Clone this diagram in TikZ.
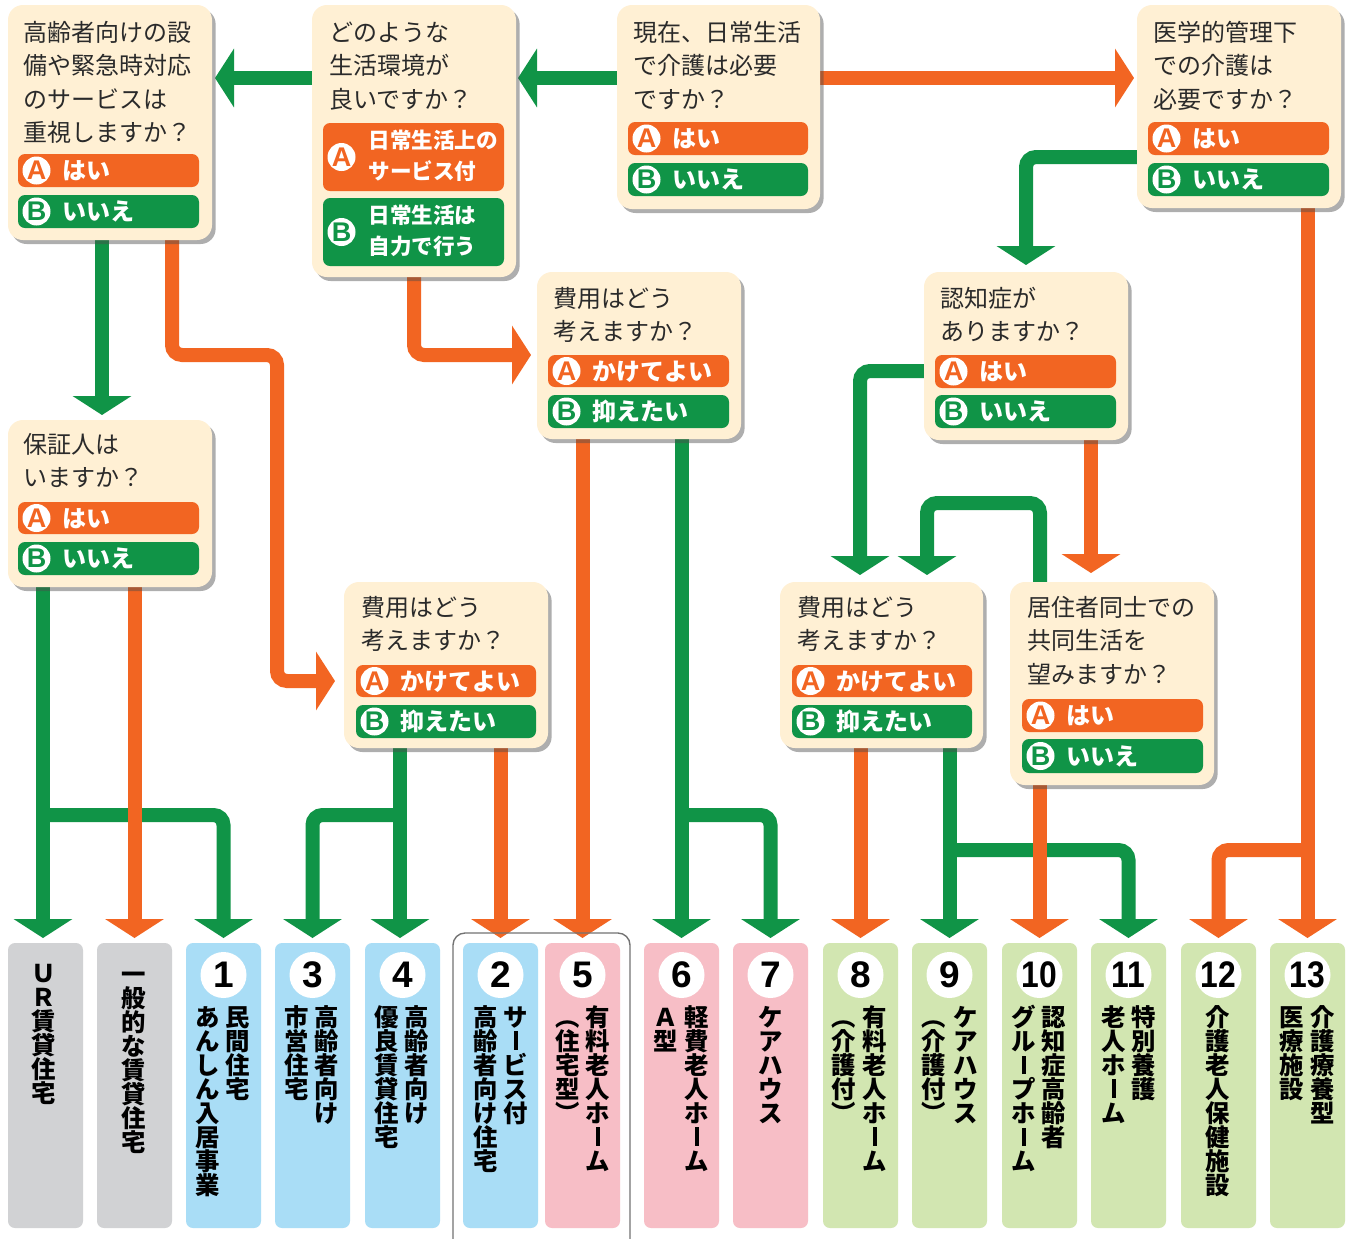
\documentclass[tikz,border=0pt]{standalone}
\usepackage{fontspec}
\setmainfont{Noto Sans CJK JP}
\newfontfamily\numfont{Liberation Sans}
\usetikzlibrary{arrows.meta,shadows,calc}
\pgfdeclarelayer{bg}
\pgfsetlayers{bg,main}
\definecolor{org}{HTML}{F26522}
\definecolor{grn}{HTML}{109447}
\definecolor{cream}{HTML}{FFF0D4}
\definecolor{txt}{HTML}{2A2A2A}
\definecolor{cgray}{HTML}{D1D2D4}
\definecolor{cblue}{HTML}{A9DDF6}
\definecolor{cpink}{HTML}{F7BEC6}
\definecolor{cgreen}{HTML}{D2E6B1}

\newcommand\qbox[5]{\node[qbox, minimum width={(#4-#2)*0.5pt}, minimum height={(#5-#3)*0.5pt}] (#1) at (#2,#3) {};}
\newcommand\qlines[4]{\foreach \qln [count=\i] in {#4}{\node[qtext] (#1-l\i) at (#2,{#3+(\i-1)*33.5}) {\qln};}}
\newcommand\ansbar[8]{%
  \node[ansbox, fill=#6, minimum width={(#4-#2)*0.5pt}, minimum height={(#5-#3)*0.5pt}] (#1) at (#2,#3) {};
  \node[icon, text=#6] (#1-i) at ($(#1.west)+(18.5,0)$) {#7};
  \node[anstext] (#1-t) at ($(#1.west)+(44,0)$) {#8};}
\newcommand\vstack[1]{\vbox{\offinterlineskip\foreach \vch in {#1}{\hbox to 12pt{\hss\vrule height 10.6pt depth 1.4pt width 0pt\vch\hss}}}}
\newcommand\vlong{\vrule width 1.7pt height 9.6pt depth -0.4pt}
\newcommand\rescol[3]{\node[colbox, fill=#3] (#1) at (#2,943) {};}

\begin{document}
\begin{tikzpicture}[x=0.5pt,y=-0.5pt,
  qbox/.style={fill=cream, rounded corners=7.5pt, anchor=north west, inner sep=0, outer sep=0,
    drop shadow={shadow xshift=1.8pt, shadow yshift=-2pt, opacity=0.45, fill=black!70}},
  ansbox/.style={rounded corners=3.5pt, anchor=north west, inner sep=0, outer sep=0},
  icon/.style={circle, fill=white, inner sep=0, minimum size=14pt, font=\numfont\bfseries\fontsize{13.5}{13.5}\selectfont},
  anstext/.style={anchor=west, inner sep=0, text=white, font=\bfseries\fontsize{12}{14}\selectfont, text height=10.3pt, text depth=1.2pt},
  anstwo/.style={anchor=west, inner sep=0, text=white, align=left, font=\bfseries\fontsize{10.8}{15.5}\selectfont},
  qtext/.style={anchor=west, inner sep=0, text=txt, font=\fontsize{12}{14}\selectfont, text height=10.3pt, text depth=1.2pt},
  colbox/.style={rounded corners=3.5pt, anchor=north west, inner sep=0, outer sep=0, minimum width=37.5pt, minimum height=142.5pt},
  numc/.style={circle, fill=white, inner sep=0, minimum size=23pt, text=black, font=\numfont\bfseries\fontsize{18.5}{18.5}\selectfont},
  vt/.style={anchor=north, inner sep=0, text=black, font=\bfseries\fontsize{12.2}{12}\selectfont},
  tip/.style={-{Triangle[width=29pt,length=9.5pt]}},
  gl/.style={draw=grn, line width=7pt, rounded corners=5pt, tip, shorten >=2.5pt},
  ol/.style={draw=org, line width=7pt, rounded corners=5pt, tip, shorten >=2.5pt}]
\useasboundingbox (0,0) rectangle (1350,1238);

% ---------- question boxes ----------
\qbox{q1}{8}{5}{212}{240}
\qlines{q1}{23}{32}{高齢者向けの設,備や緊急時対応,のサービスは,重視しますか？}
\ansbar{q1a}{18}{154}{199}{187}{org}{A}{はい}
\ansbar{q1b}{18}{195}{199}{228}{grn}{B}{いいえ}

\qbox{q2}{312}{5}{516}{277}
\qlines{q2}{329}{32}{どのような,生活環境が,良いですか？}
\node[ansbox, fill=org, minimum width=90.5pt, minimum height=34pt] (q2a) at (323,123) {};
\node[icon, text=org] (q2a-i) at ($(q2a.west)+(18.5,0)$) {A};
\node[anstwo] (q2a-t) at ($(q2a.west)+(45,-1)$) {日常生活上の\\サービス付};
\node[ansbox, fill=grn, minimum width=90.5pt, minimum height=34pt] (q2b) at (323,198) {};
\node[icon, text=grn] (q2b-i) at ($(q2b.west)+(18.5,0)$) {B};
\node[anstwo] (q2b-t) at ($(q2b.west)+(45,-1)$) {日常生活は\\自力で行う};

\qbox{q3}{617}{5}{820}{209}
\qlines{q3}{633}{32}{現在、日常生活,で介護は必要,ですか？}
\ansbar{q3a}{628}{122}{808}{155}{org}{A}{はい}
\ansbar{q3b}{628}{163}{808}{196}{grn}{B}{いいえ}

\qbox{q4}{1137}{5}{1341}{208}
\qlines{q4}{1153}{32}{医学的管理下,での介護は,必要ですか？}
\ansbar{q4a}{1148}{122}{1329}{155}{org}{A}{はい}
\ansbar{q4b}{1148}{163}{1329}{196}{grn}{B}{いいえ}

\qbox{q5}{537}{272}{741}{439}
\qlines{q5}{553}{298}{費用はどう,考えますか？}
\ansbar{q5a}{548}{355}{729}{387}{org}{A}{かけてよい}
\ansbar{q5b}{548}{395}{729}{428}{grn}{B}{抑えたい}

\qbox{q6}{924}{272}{1128}{440}
\qlines{q6}{940}{298}{認知症が,ありますか？}
\ansbar{q6a}{935}{355}{1116}{388}{org}{A}{はい}
\ansbar{q6b}{935}{395}{1116}{428}{grn}{B}{いいえ}

\qbox{q7}{8}{420}{212}{587}
\qlines{q7}{23}{444}{保証人は,いますか？}
\ansbar{q7a}{18}{502}{199}{534}{org}{A}{はい}
\ansbar{q7b}{18}{542}{199}{575}{grn}{B}{いいえ}

\qbox{q8}{344}{582}{548}{748}
\qlines{q8}{361}{607}{費用はどう,考えますか？}
\ansbar{q8a}{356}{665}{536}{697}{org}{A}{かけてよい}
\ansbar{q8b}{356}{705}{536}{738}{grn}{B}{抑えたい}

\qbox{q9}{780}{582}{983}{748}
\qlines{q9}{797}{607}{費用はどう,考えますか？}
\ansbar{q9a}{792}{665}{972}{697}{org}{A}{かけてよい}
\ansbar{q9b}{792}{705}{972}{738}{grn}{B}{抑えたい}

\qbox{q10}{1010}{582}{1214}{785}
\qlines{q10}{1027}{607}{居住者同士での,共同生活を,望みますか？}
\ansbar{q10a}{1022}{699}{1203}{732}{org}{A}{はい}
\ansbar{q10b}{1022}{739}{1203}{773}{grn}{B}{いいえ}

% ---------- result columns ----------
\draw[draw=black!55, line width=0.7pt, rounded corners=6pt] (453,933) rectangle (630,1270);
\rescol{cUR}{8}{cgray}
\rescol{c0}{97}{cgray}
\rescol{c1}{186}{cblue}
\rescol{c3}{275}{cblue}
\rescol{c4}{365}{cblue}
\rescol{c2}{463}{cblue}
\rescol{c5}{545}{cpink}
\rescol{c6}{644}{cpink}
\rescol{c7}{733}{cpink}
\rescol{c8}{823}{cgreen}
\rescol{c9}{912}{cgreen}
\rescol{c10}{1002}{cgreen}
\rescol{c11}{1091}{cgreen}
\rescol{c12}{1181}{cgreen}
\rescol{c13}{1270}{cgreen}

\node[numc] (c1-n) at (c1.north |- 0,975) {1};
\node[numc] (c3-n) at (c3.north |- 0,975) {3};
\node[numc] (c4-n) at (c4.north |- 0,975) {4};
\node[numc] (c2-n) at (c2.north |- 0,975) {2};
\node[numc] (c5-n) at (c5.north |- 0,975) {5};
\node[numc] (c6-n) at (c6.north |- 0,975) {6};
\node[numc] (c7-n) at (c7.north |- 0,975) {7};
\node[numc] (c8-n) at (c8.north |- 0,975) {8};
\node[numc] (c9-n) at (c9.north |- 0,975) {9};
\node[numc] (c10-n) at (c10.north |- 0,975) {\scalebox{0.86}[1]{10}};
\node[numc] (c11-n) at (c11.north |- 0,975) {\scalebox{0.86}[1]{11}};
\node[numc] (c12-n) at (c12.north |- 0,975) {\scalebox{0.86}[1]{12}};
\node[numc] (c13-n) at (c13.north |- 0,975) {\scalebox{0.86}[1]{13}};

\node[vt] (cUR-t) at (44,961) {\vstack{Ｕ,Ｒ,賃,貸,住,宅}};
\node[vt] (c0-t) at (134,962) {\vstack{一,般,的,な,賃,貸,住,宅}};
\node[vt] (c1-r) at (238,1005) {\vstack{民,間,住,宅}};
\node[vt] (c1-l) at (208,1005) {\vstack{あ,ん,し,ん,入,居,事,業}};
\node[vt] (c3-r) at (327,1005) {\vstack{高,齢,者,向,け}};
\node[vt] (c3-l) at (297,1005) {\vstack{市,営,住,宅}};
\node[vt] (c4-r) at (417,1005) {\vstack{高,齢,者,向,け}};
\node[vt] (c4-l) at (387,1005) {\vstack{優,良,賃,貸,住,宅}};
\node[vt] (c2-r) at (516,1005) {\vstack{サ,\vlong,ビ,ス,付}};
\node[vt] (c2-l) at (486,1005) {\vstack{高,齢,者,向,け,住,宅}};
\node[vt] (c5-r) at (598,1005) {\vstack{有,料,老,人,ホ,\vlong,ム}};
\node[vt] (c5-l) at (568,1005) {\vstack{︵,住,宅,型,︶}};
\node[vt] (c6-r) at (697,1005) {\vstack{軽,費,老,人,ホ,\vlong,ム}};
\node[vt] (c6-l) at (666,1005) {\vstack{Ａ,型}};
\node[vt] (c7-r) at (771,1005) {\vstack{ケ,ア,ハ,ウ,ス}};
\node[vt] (c8-r) at (875,1005) {\vstack{有,料,老,人,ホ,\vlong,ム}};
\node[vt] (c8-l) at (844,1005) {\vstack{︵,介,護,付,︶}};
\node[vt] (c9-r) at (966,1005) {\vstack{ケ,ア,ハ,ウ,ス}};
\node[vt] (c9-l) at (934,1005) {\vstack{︵,介,護,付,︶}};
\node[vt] (c10-r) at (1054,1005) {\vstack{認,知,症,高,齢,者}};
\node[vt] (c10-l) at (1024,1005) {\vstack{グ,ル,\vlong,プ,ホ,\vlong,ム}};
\node[vt] (c11-r) at (1144,1005) {\vstack{特,別,養,護}};
\node[vt] (c11-l) at (1114,1005) {\vstack{老,人,ホ,\vlong,ム}};
\node[vt] (c12-r) at (1218,1005) {\vstack{介,護,老,人,保,健,施,設}};
\node[vt] (c13-r) at (1323,1005) {\vstack{介,護,療,養,型}};
\node[vt] (c13-l) at (1292,1005) {\vstack{医,療,施,設}};

% ---------- connectors ----------
\begin{pgfonlayer}{bg}
\fill[white] (0,0) rectangle (1350,1238);
% green
\draw[gl, shorten >=1pt] (q3.west |- 0,78) -- (q2.east |- 0,78);
\draw[gl, shorten >=1.5pt] (q2.west |- 0,78) -- (q1.east |- 0,78);
\draw[gl, shorten >=3.5pt] (q4.west |- 0,157) -| (q6.north);
\draw[gl] (q1.south -| 102,0) -- (q7.north -| 102,0);
\draw[gl, shorten >=3.5pt] (q6.west |- 0,371) -| (q9.north -| 860,0);
\draw[gl, shorten >=3.5pt] (q10.north -| 1040,0) |- (927,503) -- (q9.north -| 927,0);
\draw[gl] (q7.south -| 43,0) -- (cUR.north -| 43,0);
\draw[gl] (43,815) -| (c1.north);
\draw[gl] (q8.south -| 400,0) -- (c4.north -| 400,0);
\draw[gl] (400,815) -| (c3.north);
\draw[gl] (q5.south -| c6.north) -- (c6.north);
\draw[gl] (c6.north |- 0,815) -| (c7.north);
\draw[gl] (q9.south -| c9.north) -- (c9.north);
\draw[gl] (c9.north |- 0,850) -| (c11.north);
% orange
\draw[ol, shorten >=1.5pt] (q3.east |- 0,78) -- (q4.west |- 0,78);
\draw[ol] (q4.south -| c13.north) -- (c13.north);
\draw[ol] (c13.north |- 0,850) -| (c12.north);
\draw[ol, shorten >=4.5pt] (q1.south -| 172,0) |- (277,355) |- (q8.west |- 0,681);
\draw[ol, shorten >=3pt] (q2.south -| 414,0) |- (q5.west |- 0,355);
\draw[ol] (q5.south -| c5.north) -- (c5.north);
\draw[ol, shorten >=4.5pt] (q6.south -| 1091,0) -- (q10.north -| 1091,0);
\draw[ol] (q7.south -| c0.north) -- (c0.north);
\draw[ol] (q8.south -| c2.north) -- (c2.north);
\draw[ol] (q9.south -| c8.north) -- (c8.north);
\draw[ol] (q10.south -| c10.north) -- (c10.north);
\end{pgfonlayer}
\end{tikzpicture}
\end{document}
